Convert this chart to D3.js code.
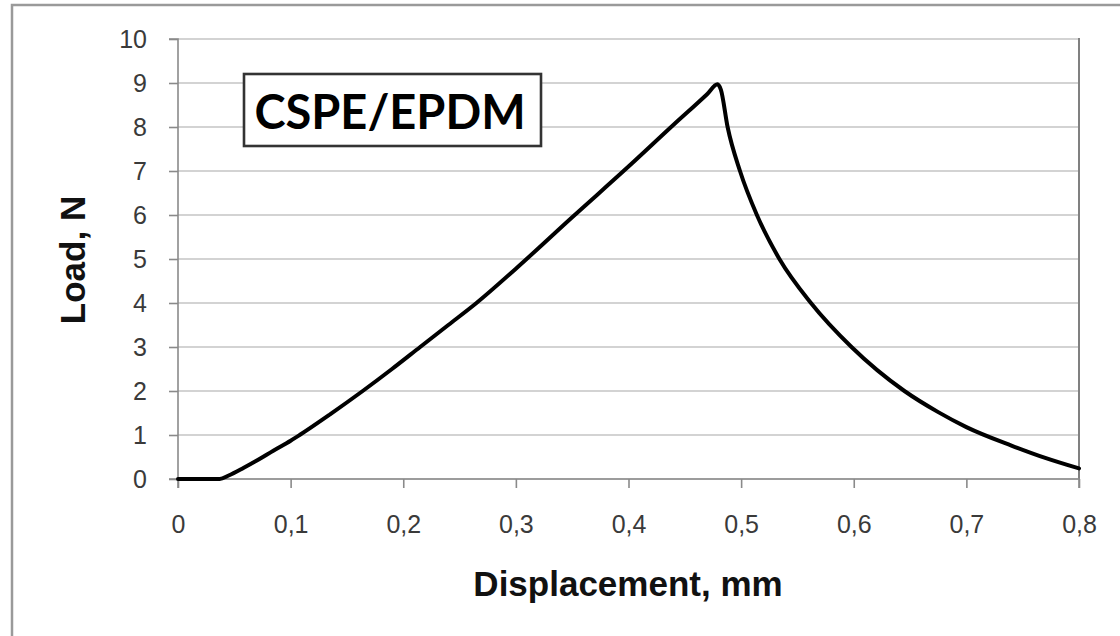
<!DOCTYPE html>
<html><head><meta charset="utf-8">
<script src="https://cdn.jsdelivr.net/npm/d3@7"></script>
<style>html,body{margin:0;padding:0;background:#fff;}svg{display:block;}</style>
</head><body>
<script>
const displacement = [0,0.02,0.037,0.045,0.058,0.07,0.085,0.1,0.108,0.135,0.164,0.19,0.215,0.24,0.265,0.3,0.35,0.4,0.44,0.47,0.479,0.482,0.488,0.499,0.514,0.534,0.562,0.598,0.645,0.675,0.7,0.74,0.77,0.8];
const load =        [0,0,0,0.08,0.25,0.42,0.65,0.87,1.0,1.47,2.0,2.5,3.0,3.5,4.0,4.78,5.95,7.1,8.05,8.75,8.97,8.85,8.0,7.0,6.0,5.0,4.0,3.0,2.0,1.52,1.18,0.76,0.48,0.24];
const xTicks = [0,0.1,0.2,0.3,0.4,0.5,0.6,0.7,0.8];
const xTickLabels = ["0","0,1","0,2","0,3","0,4","0,5","0,6","0,7","0,8"];
const yTicks = [0,1,2,3,4,5,6,7,8,9,10];
const yTickLabels = ["0","1","2","3","4","5","6","7","8","9","10"];
const title = "CSPE/EPDM";
const xTitle = "Displacement, mm";
const yTitle = "Load, N";

const W = 1120, H = 636;
const svg = d3.select("body").append("svg").attr("width", W).attr("height", H);

// outer frame
svg.append("rect").attr("x", 12).attr("y", 5).attr("width", W + 20).attr("height", H + 20)
  .attr("fill", "none").attr("stroke", "#9a9a9a").attr("stroke-width", 2.5);

const L = 178, R = 1079, T = 39, B = 479;
const x = d3.scaleLinear().domain([0, 0.8]).range([L, R]);
const y = d3.scaleLinear().domain([0, 10]).range([B, T]);

// gridlines
svg.append("g").selectAll("line").data(yTicks).join("line")
  .attr("x1", L).attr("x2", R).attr("y1", d => y(d)).attr("y2", d => y(d))
  .attr("stroke", "#c4c4c4").attr("stroke-width", 1.6);

// right border
svg.append("line").attr("x1", R).attr("x2", R).attr("y1", T - 1).attr("y2", B)
  .attr("stroke", "#808080").attr("stroke-width", 2);

// y axis
const yAxis = d3.axisLeft(y).tickValues(yTicks).tickSize(9).tickPadding(22)
  .tickFormat((d, i) => yTickLabels[i]);
const gy = svg.append("g").attr("transform", `translate(${L},0)`).call(yAxis);
gy.select(".domain").attr("stroke", "#8a8a8a").attr("stroke-width", 1.6).attr("d", `M-9,${B}H0V${T}H-9`);
gy.selectAll(".tick line").attr("stroke", "#8a8a8a").attr("stroke-width", 1.6);
gy.selectAll(".tick text").attr("font-family", "Liberation Sans, Arial, sans-serif")
  .attr("font-size", 25).attr("fill", "#3a3a3a");

// x axis
const xAxis = d3.axisBottom(x).tickValues(xTicks).tickSize(9).tickPadding(27)
  .tickFormat((d, i) => xTickLabels[i]);
const gx = svg.append("g").attr("transform", `translate(0,${B})`).call(xAxis);
gx.select(".domain").attr("stroke", "#8a8a8a").attr("stroke-width", 1.6).attr("d", `M${L},9V0H${R}V9`);
gx.selectAll(".tick line").attr("stroke", "#8a8a8a").attr("stroke-width", 1.6);
gx.selectAll(".tick text").attr("font-family", "Liberation Sans, Arial, sans-serif")
  .attr("font-size", 25).attr("fill", "#3a3a3a");

// data line
const pts = displacement.map((d, i) => [d, load[i]]);
svg.append("path").datum(pts)
  .attr("fill", "none").attr("stroke", "#000").attr("stroke-width", 4)
  .attr("stroke-linejoin", "round").attr("stroke-linecap", "round")
  .attr("d", d3.line().x(d => x(d[0])).y(d => y(d[1])).curve(d3.curveMonotoneX));

// title box
svg.append("rect").attr("x", 244).attr("y", 74).attr("width", 297).attr("height", 72)
  .attr("fill", "#fff").attr("stroke", "#333").attr("stroke-width", 2.6);
svg.append("text").attr("x", 390).attr("y", 129).attr("text-anchor", "middle")
  .attr("font-family", "Lato, Liberation Sans, sans-serif").attr("font-weight", "bold")
  .attr("font-size", 47).attr("fill", "#000").text(title);

// axis titles
svg.append("text").attr("x", 628).attr("y", 596).attr("text-anchor", "middle")
  .attr("font-family", "Liberation Sans, Arial, sans-serif").attr("font-weight", "bold")
  .attr("font-size", 35).attr("fill", "#111").text(xTitle);
svg.append("text").attr("transform", "translate(85,260) rotate(-90)").attr("text-anchor", "middle")
  .attr("font-family", "Liberation Sans, Arial, sans-serif").attr("font-weight", "bold")
  .attr("font-size", 35).attr("fill", "#111").text(yTitle);
</script>
</body></html>
